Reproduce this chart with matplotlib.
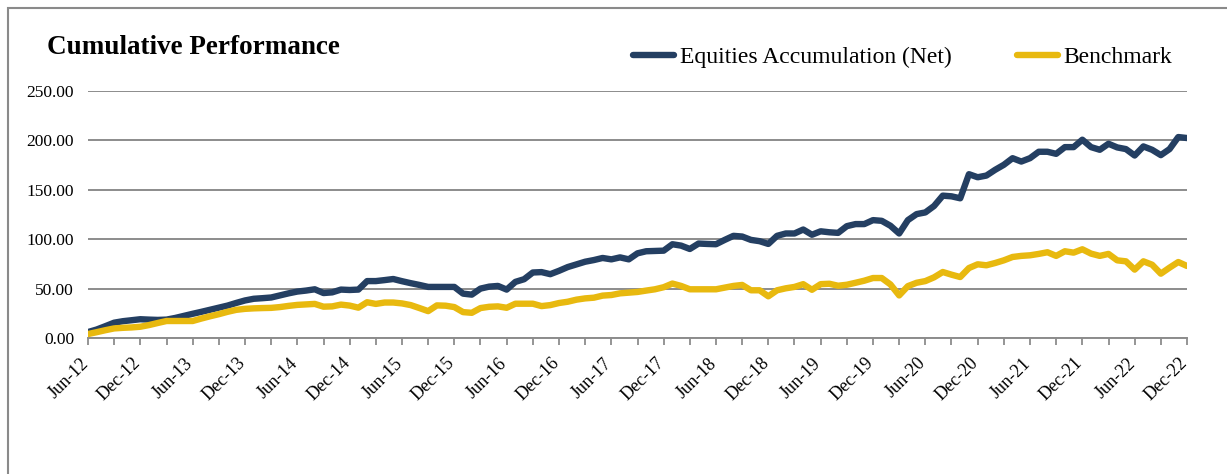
import numpy as np
import matplotlib.pyplot as plt
import matplotlib.transforms as mtransforms
from matplotlib.lines import Line2D
from matplotlib.patches import Rectangle

# monthly values, Jun-12 .. Dec-22
equities = [6, 8.6, 12, 15.5, 17, 18, 19, 18.6, 18.3, 18.6,
            20.3, 22.4, 24.5, 26.5, 28.6, 30.7, 32.8, 35.5, 38, 39.7,
            40.3, 41, 43.1, 45.2, 47, 48, 49.3, 45.5, 46.2, 49,
            48.6, 49, 57.6, 57.6, 58.6, 59.7, 57.5, 55.5, 53.7, 51.7,
            51.7, 51.7, 51.7, 44.9, 43.9, 50, 52, 52.7, 49, 56.8,
            59.5, 66.3, 66.7, 64.6, 68, 71.8, 74.5, 77.2, 78.9, 81,
            79.6, 81.6, 79.6, 85.7, 87.8, 88.1, 88.4, 94.9, 93.5, 90.1,
            95.6, 95.2, 94.9, 99.3, 103.4, 102.7, 99.3, 98, 95.2, 103.4,
            105.8, 105.8, 109.8, 104.5, 108, 107, 106.4, 113.2, 115.3, 115.3,
            119.3, 118.6, 113.6, 105.8, 119.3, 125.4, 127.1, 133.6, 144.1, 143.4,
            141.4, 165.8, 162.7, 164.4, 170.2, 175.3, 182, 178.6, 182, 188.5,
            188.5, 186.4, 193.2, 193.2, 200.7, 193.2, 190.5, 196.6, 192.9, 191.2,
            184.7, 193.9, 190.5, 185.1, 191.2, 203.4, 202.4]

benchmark = [4, 5.9, 7.9, 9.7, 10.3, 10.7, 11.4, 13.1, 15.2, 17.2,
             17.2, 17.2, 17.2, 19.7, 22, 24.1, 26.5, 28.5, 29.5, 30,
             30.3, 30.5, 31.3, 32.5, 33.5, 34, 34.5, 31.7, 32, 33.8,
             32.8, 30.7, 36.2, 34.5, 35.9, 35.9, 35, 33.3, 30.3, 27.2,
             33, 32.7, 31.3, 26.2, 25.5, 30.3, 31.6, 32, 30.6, 34.7,
             34.7, 34.7, 32.3, 33.3, 35.4, 36.7, 38.8, 40.1, 40.8, 42.9,
             43.5, 45.2, 45.9, 46.6, 48, 49.3, 51.4, 55.1, 52.7, 49.3,
             49.3, 49.3, 49.3, 51, 52.7, 53.7, 48.3, 48.3, 42.2, 48.3,
             50.3, 51.7, 54.5, 48.8, 54.5, 54.9, 52.9, 53.9, 55.9, 58,
             60.7, 60.7, 54.2, 43.1, 52.5, 55.9, 57.6, 61.4, 66.8, 64.1,
             61.7, 70.8, 74.6, 73.6, 75.9, 78.6, 82, 83.1, 83.7, 85.1,
             86.8, 83.1, 87.8, 86.4, 89.8, 85.4, 83.1, 85.1, 78.6, 77.6,
             69.2, 77.6, 74.2, 65.1, 71.2, 76.9, 72.9]

tick_labels = ['Jun-12', 'Dec-12', 'Jun-13', 'Dec-13', 'Jun-14', 'Dec-14',
               'Jun-15', 'Dec-15', 'Jun-16', 'Dec-16', 'Jun-17', 'Dec-17',
               'Jun-18', 'Dec-18', 'Jun-19', 'Dec-19', 'Jun-20', 'Dec-20',
               'Jun-21', 'Dec-21', 'Jun-22', 'Dec-22']

NAVY = '#243f62'
GOLD = '#e8b90f'
GRID = '#8c8c8c'
FONT = 'Liberation Serif'

plt.rcParams['font.family'] = FONT

fig = plt.figure(figsize=(12.27, 4.74), dpi=100)
fig.patches.append(Rectangle((8 / 1227, -0.1), 1.2, 1 - 8 / 474 + 0.1,
                             transform=fig.transFigure, fill=False,
                             edgecolor='#8a8a8a', linewidth=1.5))

ax = fig.add_axes([88 / 1227, 1 - 338 / 474, 1099 / 1227, 247 / 474])

x = np.arange(len(equities))
ax.plot(x, equities, color=NAVY, lw=4.6, solid_joinstyle='round',
        solid_capstyle='round', zorder=3)
ax.plot(x, benchmark, color=GOLD, lw=4.6, solid_joinstyle='round',
        solid_capstyle='round', zorder=3)

ax.set_xlim(0, len(equities) - 1)
ax.set_ylim(0, 250)
ax.set_yticks(np.arange(0, 251, 50))
ax.yaxis.set_major_formatter(lambda v, p: f'{v:.2f}')
ax.grid(axis='y', color=GRID, lw=1.4)
ax.set_axisbelow(True)

ax.set_xticks(np.arange(0, len(equities), 6))
ax.set_xticks(np.arange(0, len(equities), 3), minor=True)
ax.set_xticklabels(tick_labels, rotation=45, ha='right',
                   rotation_mode='anchor', fontsize=13)
ax.tick_params(axis='x', which='both', direction='out', length=5,
               color=GRID, width=1.3, pad=7)
ax.tick_params(axis='y', length=0, labelsize=12.5, pad=10)

# shift the rotated date labels a little to the left, like the original
shift = mtransforms.ScaledTranslation(-8 / 100, 0, fig.dpi_scale_trans)
for lab in ax.get_xticklabels():
    lab.set_transform(lab.get_transform() + shift)

for s in ['top', 'right', 'left']:
    ax.spines[s].set_visible(False)
ax.spines['bottom'].set_color(GRID)
ax.spines['bottom'].set_linewidth(1.4)

fig.text(47 / 1227, 1 - 48 / 474, 'Cumulative Performance', fontsize=19.5,
         fontweight='bold', va='center', ha='left')

handles = [Line2D([], [], color=NAVY, lw=4.6, solid_capstyle='round'),
           Line2D([], [], color=GOLD, lw=4.6, solid_capstyle='round')]
fig.legend(handles, ['Equities Accumulation (Net)', 'Benchmark'],
           loc='center right', bbox_to_anchor=(1184 / 1227, 1 - 57 / 474),
           ncol=2, frameon=False, fontsize=17, handlelength=1.7,
           handletextpad=0.25, columnspacing=2.8, borderpad=0)

fig.savefig('out.png', dpi=100)
